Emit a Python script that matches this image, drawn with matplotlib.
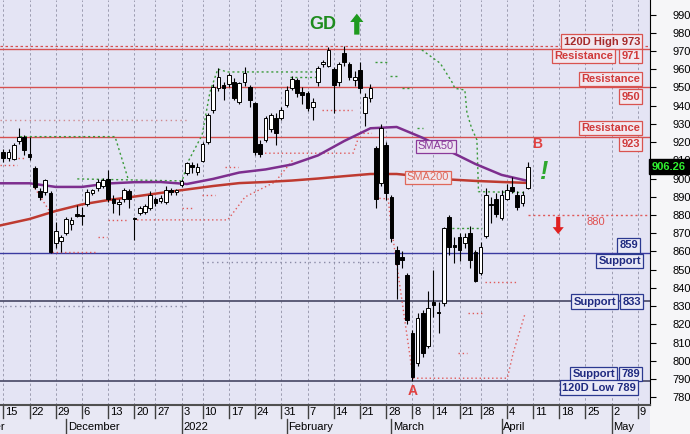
import matplotlib
matplotlib.use("Agg")
import matplotlib.pyplot as plt
import matplotlib.transforms as mtransforms
import numpy as np
import pandas as pd

plt.rcParams["font.family"] = ["Liberation Sans", "DejaVu Sans"]

# %% trading calendar (exchange holidays taken out of the past part)
holidays = pd.to_datetime(["2021-12-24", "2022-01-06", "2022-03-07", "2022-03-25"])
past_days = pd.bdate_range("2021-11-01", "2022-04-08")
past_days = past_days[~past_days.isin(holidays)]
future_days = pd.bdate_range("2022-04-11", "2022-05-13")
all_days = past_days.append(future_days)
first_candle = pd.Timestamp("2021-11-15")
day_pos = np.arange(len(all_days)) - all_days.get_loc(first_candle)

# %% daily candles, 15 Nov 2021 .. 8 Apr 2022
opens = [914.7, 911.5, 911.0, 920.4, 923.0, 913.3, 906.0, 893.0, 892.8, 892.0,
         864.5, 865.5, 870.0, 875.0, 880.4, 880.0, 886.0, 892.0, 894.6, 896.0,
         900.0, 889.0, 886.0, 888.5, 893.0, 878.5, 881.0, 881.5, 884.0, 888.8,
         887.5, 887.3, 893.7, 892.5, 896.5, 903.0, 907.4, 903.4, 909.6, 920.0,
         937.6, 949.5, 951.4, 951.7, 953.0, 942.2, 953.0, 950.4, 941.3, 919.0,
         921.0, 927.0, 933.0, 933.0, 940.4, 949.5, 954.0, 947.7, 946.8, 939.0,
         953.2, 962.7, 962.0, 960.0, 953.0, 968.7, 963.0, 954.0, 959.6, 936.0,
         944.0, 916.6, 897.4, 918.4, 890.0, 861.0, 857.0, 847.0, 815.0, 798.6,
         826.0, 808.0, 832.5, 827.0, 831.5, 878.7, 863.5, 868.0, 864.5, 870.0,
         859.5, 848.0, 868.5, 886.3, 889.0, 878.2, 888.6, 895.5, 891.0, 886.4,
         894.6]
highs = [916.0, 916.0, 919.5, 927.6, 924.0, 923.0, 907.0, 895.0, 900.0, 893.0,
         876.0, 869.0, 879.0, 879.0, 885.5, 884.6, 894.0, 894.5, 900.0, 900.5,
         904.5, 891.0, 889.0, 895.0, 894.0, 879.0, 885.0, 886.0, 893.0, 890.0,
         891.0, 896.0, 895.0, 894.5, 900.0, 909.0, 909.0, 908.5, 920.0, 936.0,
         952.0, 960.5, 953.0, 958.0, 955.0, 953.0, 961.0, 951.5, 942.0, 921.0,
         934.5, 936.0, 935.8, 939.0, 951.0, 956.5, 955.0, 950.0, 948.0, 944.0,
         962.0, 965.0, 972.0, 961.0, 964.0, 973.0, 964.0, 959.0, 964.0, 947.0,
         952.0, 918.0, 930.0, 920.0, 891.0, 863.0, 860.0, 848.0, 817.0, 826.0,
         828.0, 838.0, 850.0, 832.0, 873.5, 880.0, 868.0, 870.0, 870.0, 874.0,
         861.0, 865.0, 895.0, 890.0, 892.0, 893.5, 897.0, 901.0, 893.0, 893.0,
         909.0]
lows = [909.0, 909.5, 910.0, 919.0, 913.0, 910.0, 894.5, 888.0, 891.0, 859.0,
        862.0, 859.5, 869.0, 872.0, 879.0, 874.5, 885.0, 891.0, 893.0, 895.0,
        887.0, 881.0, 880.0, 887.0, 884.0, 866.0, 880.0, 880.5, 883.0, 885.0,
        886.5, 886.0, 891.0, 891.0, 895.5, 902.0, 903.0, 902.0, 909.0, 919.0,
        936.0, 948.0, 943.0, 950.0, 943.0, 941.0, 951.0, 939.0, 913.0, 912.0,
        920.0, 925.5, 918.4, 932.0, 939.0, 948.5, 945.0, 941.0, 937.0, 932.0,
        951.0, 961.0, 961.0, 936.0, 951.0, 962.0, 954.0, 951.0, 946.8, 929.0,
        942.0, 884.0, 896.0, 888.0, 865.0, 834.0, 851.0, 820.0, 789.0, 797.0,
        802.0, 807.0, 824.0, 815.0, 830.0, 858.0, 853.5, 855.0, 862.0, 851.0,
        843.0, 847.0, 867.5, 875.5, 879.0, 877.0, 888.0, 892.0, 882.5, 885.0,
        894.0]
closes = [911.1, 914.5, 918.4, 922.8, 915.6, 912.0, 895.5, 890.0, 899.2, 859.5,
          871.0, 868.0, 878.0, 877.0, 879.7, 879.5, 892.4, 893.7, 898.3, 899.0,
          889.0, 886.4, 887.0, 893.5, 889.0, 877.8, 884.0, 885.0, 891.0, 886.4,
          889.5, 893.7, 892.5, 893.7, 898.7, 908.3, 906.4, 906.5, 918.8, 935.0,
          950.4, 956.0, 949.5, 956.8, 944.0, 952.2, 957.7, 943.0, 914.8, 913.3,
          933.5, 935.0, 925.0, 937.6, 948.6, 954.6, 946.8, 945.9, 938.6, 942.0,
          960.5, 964.2, 970.5, 951.4, 963.0, 964.0, 956.0, 956.0, 949.5, 945.0,
          949.5, 889.0, 927.6, 892.0, 867.2, 853.0, 855.5, 822.4, 791.0, 823.3,
          804.0, 829.0, 830.6, 826.0, 872.6, 862.6, 862.5, 861.0, 867.8, 855.5,
          844.0, 862.6, 891.0, 885.5, 880.6, 891.0, 893.7, 893.3, 884.6, 891.0,
          906.26]

# %% moving averages (weekly points)
sma_idx = [-1, 5, 10, 15, 20, 25, 30, 35, 40, 45, 50, 55, 60, 65, 70, 75, 80, 85, 90, 95, 100]
sma50 = [897.4, 897.4, 895.4, 895.4, 897.3, 898.0, 898.1, 897.0, 899.8, 903.3, 905.0,
         907.7, 912.7, 920.6, 927.6, 928.3, 922.3, 915.1, 908.0, 902.0, 898.7]
sma200 = [874.0, 877.8, 882.2, 885.8, 888.2, 890.1, 892.1, 894.0, 895.9, 897.5, 898.1,
          898.9, 900.0, 901.3, 902.5, 902.5, 901.1, 899.5, 898.7, 898.1, 897.6]

# %% trailing stop traces (day index, price)
red_stops = [
    [(-0.6, 907.5), (2.6, 907.5)],
    [(2.8, 911.3), (4.1, 911.3)],
    [(6.0, 894.8), (8.9, 881.7)],
    [(9.3, 859.7), (17.5, 859.7)],
    [(18.1, 868.1), (19.8, 868.1)],
    [(20.0, 877.3), (23.6, 877.3)],
    [(25.5, 877.3), (42.8, 877.3), (46.1, 889.9), (51.8, 898.1), (55.2, 910.2)],
    [(34.1, 883.7), (36.2, 883.7)],
    [(37.9, 891.0), (40.4, 891.0)],
    [(42.3, 906.5), (44.8, 906.5)],
    [(49.9, 913.9), (66.7, 913.9), (68.0, 924.8), (70.3, 924.8)],
    [(60.8, 937.6), (66.5, 937.6)],
    [(70.9, 889.3), (73.4, 888.8), (73.8, 877.3), (78.1, 791.1)],
    [(78.1, 790.4), (96.1, 790.4), (97.2, 804.1), (99.5, 826.1)],
    [(86.7, 804.1), (88.4, 804.1)],
    [(88.6, 826.1), (91.3, 826.1)],
    [(91.9, 843.4), (98.2, 843.4)],
]
green_stops = [
    [(3.2, 923.0), (21.3, 923.0), (23.8, 899.8)],
    [(14.1, 899.8), (34.1, 898.7), (35.2, 909.1), (37.9, 923.9), (39.4, 947.5),
     (40.9, 960.1), (42.7, 958.5), (59.8, 958.5)],
    [(54.7, 955.5), (60.4, 955.5)],
    [(70.9, 964.1), (73.4, 964.1)],
    [(73.7, 956.3), (75.3, 956.3)],
    [(76.0, 949.5), (78.0, 949.5)],
    [(78.9, 927.6), (80.0, 927.6)],
    [(79.8, 970.6), (83.3, 963.3), (85.5, 953.2), (86.1, 949.5), (88.0, 948.6),
     (88.4, 936.0), (89.3, 927.6), (90.3, 921.2), (90.6, 892.8), (99.5, 892.3)],
    [(84.6, 872.7), (91.2, 872.7)],
]
pink_dots = [(-0.6, 932.2), (35.0, 932.2)]
gray_dots = [
    [(37.9, 854.4), (73.2, 854.4)],
    [(-0.6, 830.1), (35.2, 830.1)],
]

# %% levels
resistance_levels = [971, 950, 923]
support_levels = [859, 833, 789]
high_120d = 973
stop_level = 880
last_price = 906.26
month_labels = ["November", "December", "2022", "February", "March", "April", "May"]

# %% figure
W, H = 690, 434
fig = plt.figure(figsize=(W / 100, H / 100), dpi=100, facecolor="#F6F6F8")
ax = fig.add_axes([0, 29 / H, 650 / W, 405 / H])
ax.set_facecolor("#E4E4F4")
ax.set_xlim(-0.63, 123.3)
ax.set_ylim(775.7, 998)

# date rows background (behind everything)
fig.patches.append(plt.Rectangle((0, 0), 650 / W, 29 / H, transform=fig.transFigure,
                                 facecolor="#E8E8F4", edgecolor="none", zorder=-5))

# weekly grid
week_starts = all_days.to_series().groupby(all_days.to_period("W")).min()
week_pos = [day_pos[all_days.get_loc(d)] for d in week_starts]
week_pos = [(p, d) for p, d in zip(week_pos, week_starts) if -0.63 <= p <= 123.3]
for p, d in week_pos:
    ax.axvline(p, color="#9C9CB0", lw=0.7, ls=(0, (2.5, 2.5)), zorder=1)

# horizontal levels
for lvl in resistance_levels:
    ax.axhline(lvl, color="#D65050", lw=1.0, zorder=2)
ax.axhline(high_120d, color="#D65050", lw=0.9, ls=(0, (2, 2)), zorder=2)
ax.axhline(support_levels[0], color="#3A3AA0", lw=1.0, zorder=2)
for lvl in support_levels[1:]:
    ax.axhline(lvl, color="#52526E", lw=1.3, zorder=2)

# trailing stops
xs, ys = zip(*pink_dots)
ax.plot(xs, ys, color="#D08A90", lw=1.0, ls=(0, (1, 2.5)), zorder=2)
for seg in gray_dots:
    xs, ys = zip(*seg)
    ax.plot(xs, ys, color="#8A8AA6", lw=1.0, ls=(0, (1, 2.5)), zorder=2)
for seg in red_stops:
    xs, ys = zip(*seg)
    ax.plot(xs, ys, color="#E05A5A", lw=1.0, ls=(0, (1, 2)), zorder=3)
for seg in green_stops:
    xs, ys = zip(*seg)
    ax.plot(xs, ys, color="#3A9A3A", lw=1.0, ls=(0, (1.5, 2)), zorder=3)
ax.plot([100, 123.3], [stop_level, stop_level], color="#E05A5A", lw=1.0,
        ls=(0, (1.5, 2)), zorder=3)

# moving averages
ax.plot(sma_idx, sma200, color="#BE3A30", lw=1.8, zorder=4)
ax.plot(sma_idx, sma50, color="#7D2E8E", lw=1.8, zorder=4)

# candles
o, h, l, c = map(np.array, (opens, highs, lows, closes))
x = np.arange(len(o))
up = c >= o
ax.vlines(x, l, h, color="black", lw=0.8, zorder=5)
ax.bar(x, np.maximum(np.abs(c - o), 0.5), bottom=np.minimum(o, c), width=0.7,
       color=np.where(up, "white", "black"), edgecolor="black", lw=0.7, zorder=6)

# label boxes on the right
bt = mtransforms.blended_transform_factory(ax.transAxes, ax.transData)
red_box = dict(color="#D03A3A", ec="#D9534F", fc="#F2E8F0")
blue_box = dict(color="#1F2A80", ec="#2B3990", fc="#E9E9F6")
labels = [
    ("120D High 973", 975.2, 640, dict(red_box, color="#A52A2A")),
    ("Resistance", 967.3, 613, red_box),
    ("971", 967.3, 640, red_box),
    ("Resistance", 954.7, 640, red_box),
    ("950", 945.0, 640, red_box),
    ("Resistance", 927.8, 640, red_box),
    ("923", 919.0, 640, red_box),
    ("859", 863.3, 638, blue_box),
    ("Support", 854.8, 641, blue_box),
    ("Support", 832.5, 616, blue_box),
    ("833", 832.5, 641, blue_box),
    ("Support", 792.7, 615, blue_box),
    ("789", 792.7, 640, blue_box),
    ("120D Low 789", 785.3, 636, blue_box),
]
for txt, yv, right, st in labels:
    ax.text(right / 650, yv, txt, transform=bt, ha="right", va="center", fontsize=8,
            fontweight="bold", color=st["color"], zorder=9,
            bbox=dict(boxstyle="square,pad=0.2", fc=st["fc"], ec=st["ec"], lw=0.9))

ax.text(82.5, 917.6, "SMA50", fontsize=8, color="#8A3A9A", ha="center", va="center",
        zorder=9, bbox=dict(boxstyle="square,pad=0.15", fc="#ECE4F2", ec="#8A3A9A", lw=0.9))
ax.text(81.0, 900.6, "SMA200", fontsize=8, color="#E0685A", ha="center", va="center",
        zorder=9, bbox=dict(boxstyle="square,pad=0.15", fc="#EEE6EE", ec="#E0685A", lw=0.9))

# signals
ax.text(61.0, 984.3, "GD", fontsize=13, fontweight="bold", color="#1E8C1E",
        ha="center", va="center", zorder=9)
ax.annotate("", xy=(67.4, 990.5), xytext=(67.4, 979.0),
            arrowprops=dict(facecolor="#1E9A1E", edgecolor="none", width=3.8,
                            headwidth=9.5, headlength=6))
ax.text(101.8, 919.0, "B", fontsize=10, fontweight="bold", color="#E04040",
        ha="center", va="center", zorder=9)
ax.text(102.9, 903.6, "!", fontsize=18, fontweight="bold", fontstyle="italic",
        color="#2EA82E", ha="center", va="center", zorder=9)
ax.text(78.1, 783.4, "A", fontsize=10, fontweight="bold", color="#E04040",
        ha="center", va="center", zorder=9)
ax.annotate("", xy=(105.8, 869.5), xytext=(105.8, 879.0),
            arrowprops=dict(facecolor="#E02020", edgecolor="none", width=3.0,
                            headwidth=8, headlength=5))
ax.text(113.0, 875.9, str(stop_level), fontsize=8, color="#E05050",
        ha="center", va="center", zorder=9)

# y axis on the right
ax.yaxis.tick_right()
ax.set_yticks(np.arange(780, 1000, 10))
ax.tick_params(axis="y", labelsize=8, length=4, pad=12, colors="black")
ax.set_xticks([])
for s in ("left", "top"):
    ax.spines[s].set_visible(False)
ax.spines["right"].set_color("black")
ax.spines["bottom"].set_color("#505050")
ax.spines["bottom"].set_linewidth(1.5)

fig.text(652 / W, 1 - 166.5 / H, f"{last_price:.2f}", fontsize=8, fontweight="bold",
         color="#30F030", ha="left", va="center", zorder=10,
         bbox=dict(boxstyle="square,pad=0.25", fc="black", ec="black"))

# date rows
dt = mtransforms.blended_transform_factory(ax.transData, fig.transFigure)
for p, d in week_pos:
    ax.plot([p, p], [1 - 406 / H, 1 - 418 / H], transform=dt, color="#404040",
            lw=1.0, clip_on=False, zorder=10)
    ax.text(p + 0.35, 1 - 412 / H, str(d.day), transform=dt, fontsize=8,
            ha="left", va="center", clip_on=False, zorder=10)
month_starts = all_days.to_series().groupby(all_days.to_period("M")).min()
for name, d in zip(month_labels, month_starts):
    p = day_pos[all_days.get_loc(d)]
    ax.plot([p, p], [1 - 419 / H, 1 - 433 / H], transform=dt, color="#404040",
            lw=1.0, clip_on=False, zorder=10)
    ax.text(p + 0.35, 1 - 426.5 / H, name, transform=dt, fontsize=8,
            ha="left", va="center", clip_on=False, zorder=10)

fig.savefig("out.png", dpi=100, facecolor=fig.get_facecolor())
